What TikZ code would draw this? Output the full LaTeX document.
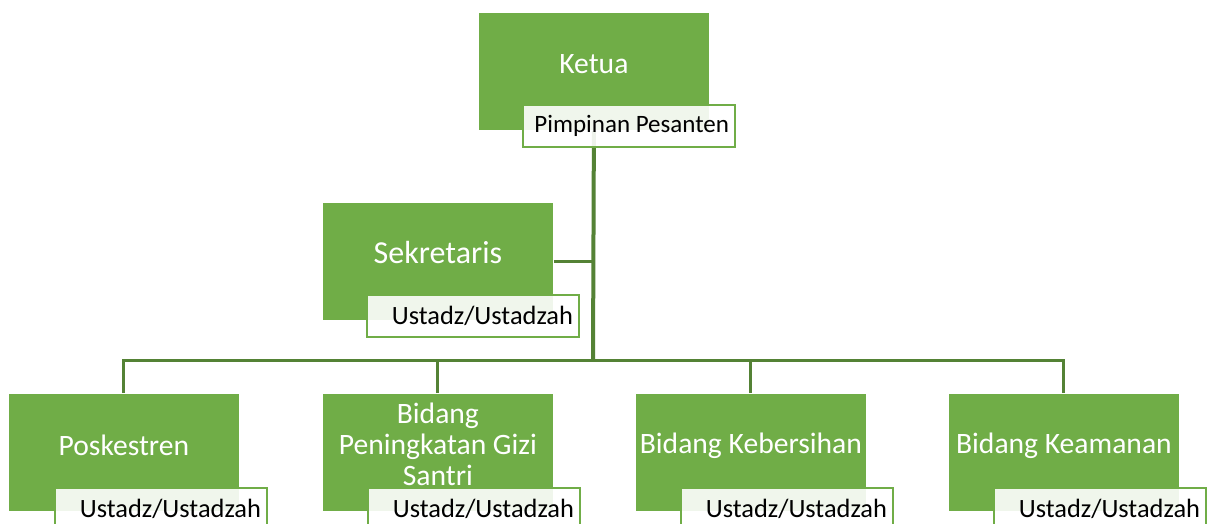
\documentclass[tikz,border=0pt]{standalone}
\usepackage{fontspec}
\setmainfont{Carlito}
\definecolor{boxgreen}{RGB}{112,173,71}
\definecolor{conngreen}{RGB}{84,130,53}
\tikzset{
  mainbox/.style={rectangle, fill=boxgreen, draw=white, line width=0.8pt, minimum width=231pt, minimum height=118pt, inner sep=0pt, anchor=north west},
  boxtext/.style={text=white, align=center, inner sep=0pt, font=\fontsize{29.6}{31}\selectfont},
  labbox/.style={rectangle, draw=boxgreen, line width=2pt, fill=white, fill opacity=0.9, text opacity=1, minimum width=212pt, minimum height=42pt, inner xsep=6pt, inner ysep=0pt, text width=200pt, align=flush right, anchor=north west, font=\fontsize{26.4}{28}\selectfont},
  conn/.style={draw=conngreen, line width=3pt},
}
\begin{document}
\begin{tikzpicture}[x=1pt, y=-1pt]
\useasboundingbox (0,0) rectangle (1207,523);
\clip (0,0) rectangle (1207,523);
\fill[white] (0,0) rectangle (1207,523);
% boxes
\node[mainbox] (ketua) at (478,12) {};
\node[mainbox] (sek) at (322,202) {};
\node[mainbox] (pos) at (8,393) {};
\node[mainbox] (gizi) at (322,393) {};
\node[mainbox] (bersih) at (635,393) {};
\node[mainbox] (aman) at (948,393) {};
% box texts
\node[boxtext] (ketuaT) at ([yshift=7pt]ketua.center) {Ketua};
\node[boxtext, font=\fontsize{32}{34}\selectfont] (sekT) at ([yshift=9pt]sek.center) {Sekretaris};
\node[boxtext] (posT) at ([yshift=7pt]pos.center) {Poskestren};
\node[boxtext] (giziT) at ([yshift=8pt]gizi.center) {Bidang\\Peningkatan Gizi\\Santri};
\node[boxtext] (bersihT) at ([yshift=7pt]bersih.center) {Bidang Kebersihan};
\node[boxtext] (amanT) at ([yshift=7pt]aman.center) {Bidang Keamanan};
% connectors
\coordinate (bus) at (593,360);
\draw[conn, line width=4pt] (ketua.south) -- (bus);
\draw[conn] (sek.east) -- (sek.east -| bus);
\draw[conn] (pos.north) |- (bus);
\draw[conn] (gizi.north) |- (bus);
\draw[conn] (bersih.north) |- (bus);
\draw[conn] (aman.north) |- (bus);
% labels
\node[labbox, font=\fontsize{25}{27}\selectfont] (ketuaL) at (522,104) {Pimpinan Pesanten};
\node[labbox] (sekL) at (366,294) {Ustadz/Ustadzah};
\node[labbox] (posL) at (54,487) {Ustadz/Ustadzah};
\node[labbox] (giziL) at (367,487) {Ustadz/Ustadzah};
\node[labbox] (bersihL) at (680,487) {Ustadz/Ustadzah};
\node[labbox] (amanL) at (993,487) {Ustadz/Ustadzah};
\end{tikzpicture}
\end{document}
